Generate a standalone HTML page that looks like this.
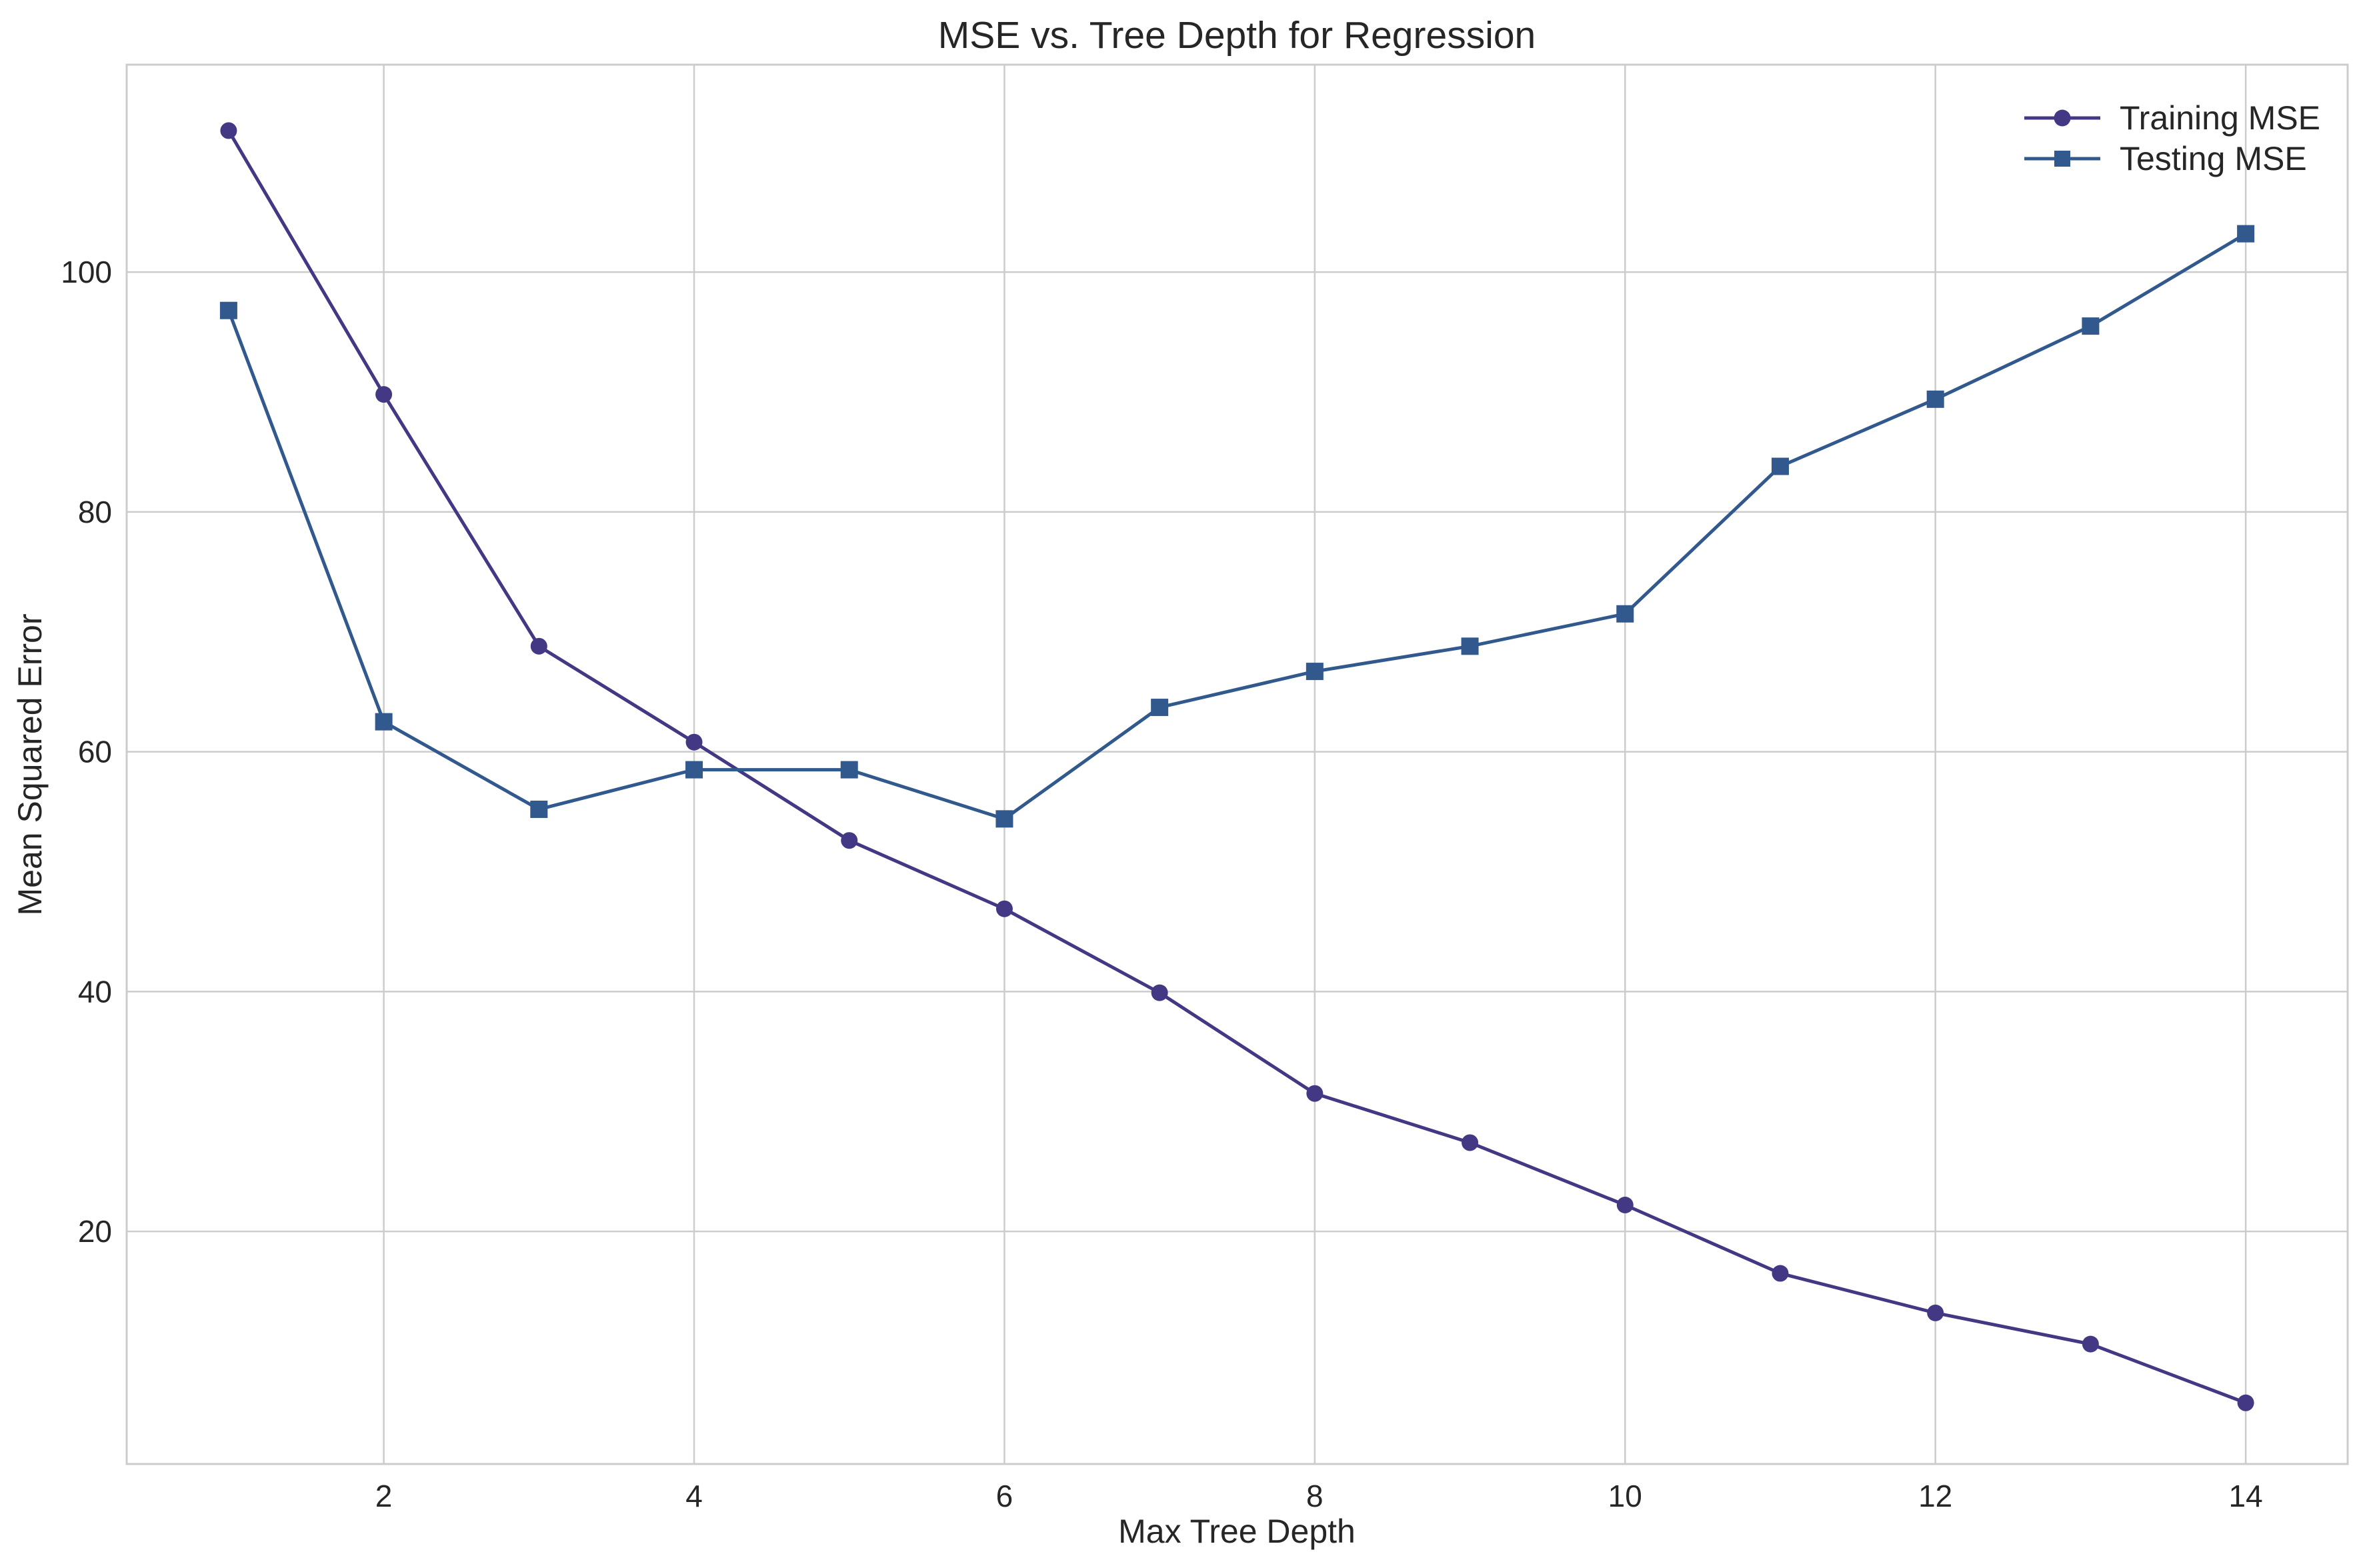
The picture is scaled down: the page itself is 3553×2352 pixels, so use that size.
<!DOCTYPE html>
<html><head><meta charset="utf-8"><style>html,body{margin:0;padding:0;background:#fff}svg{display:block}</style></head>
<body>
<svg id="chart" width="3553" height="2352" xmlns="http://www.w3.org/2000/svg" font-family="'Liberation Sans', sans-serif">
<rect width="3553" height="2352" fill="#fff"/>
<g id="grid"></g>
<g id="series"></g>
<rect x="190" y="97" width="3331" height="2099" fill="none" stroke="#cccccc" stroke-width="3"/>
<g id="ticks"></g>
<text x="1855" y="72" font-size="57" text-anchor="middle" fill="#262626">MSE vs. Tree Depth for Regression</text>
<text x="1855" y="2314" font-size="50" text-anchor="middle" fill="#262626">Max Tree Depth</text>
<text transform="translate(62,1147) rotate(-90)" font-size="50" text-anchor="middle" fill="#262626">Mean Squared Error</text>
<g>
 <g>
  <line x1="3036" y1="177" x2="3150" y2="177" stroke="#433883" stroke-width="5"/>
  <circle cx="3093" cy="177" r="12.5" fill="#433883"/>
  <text x="3179" y="194" font-size="50" fill="#262626">Training MSE</text>
 </g>
 <g>
  <line x1="3036" y1="238" x2="3150" y2="238" stroke="#31598d" stroke-width="5"/>
  <rect x="3081" y="226" width="24" height="24" fill="#31598d"/>
  <text x="3179" y="255" font-size="50" fill="#262626">Testing MSE</text>
 </g>
</g>
</svg>
<script>
const depths = [1,2,3,4,5,6,7,8,9,10,11,12,13,14];
const trainingMSE = [111.8,89.8,68.8,60.8,52.6,46.9,39.9,31.5,27.4,22.2,16.5,13.2,10.6,5.7];
const testingMSE = [96.8,62.5,55.2,58.5,58.5,54.4,63.7,66.7,68.8,71.5,83.8,89.4,95.5,103.2];
const xTicks = [2,4,6,8,10,12,14];
const yTicks = [20,40,60,80,100];

const NS = 'http://www.w3.org/2000/svg';
const L=190,R=3521,T=97,B=2196;
const xmin=0.343,xmax=14.657,ymin=0.6,ymax=117.3;
const sx=v=>L+(v-xmin)/(xmax-xmin)*(R-L);
const sy=v=>B-(v-ymin)/(ymax-ymin)*(B-T);
function mk(tag,attrs,parent){const e=document.createElementNS(NS,tag);for(const k in attrs)e.setAttribute(k,attrs[k]);parent.appendChild(e);return e;}
const grid=document.getElementById('grid'),ticks=document.getElementById('ticks'),series=document.getElementById('series');
xTicks.forEach(t=>{
  const g=mk('line',{x1:sx(t),x2:sx(t),y1:T,y2:B,stroke:'#cccccc','stroke-width':2.5},grid);
  
  
  const tx=mk('text',{x:sx(t),y:B+64,'font-size':46,'text-anchor':'middle',fill:'#262626'},ticks);
  tx.textContent=t;
  
  
});
yTicks.forEach(t=>{
  const g=mk('line',{x1:L,x2:R,y1:sy(t),y2:sy(t),stroke:'#cccccc','stroke-width':2.5},grid);
  
  
  const tx=mk('text',{x:L-22,y:sy(t)+16,'font-size':46,'text-anchor':'end',fill:'#262626'},ticks);
  tx.textContent=t;
  
  
});
function draw(vals,color,shape,name){
  const pl=mk('polyline',{points:depths.map((d,i)=>sx(d)+','+sy(vals[i])).join(' '),fill:'none',stroke:color,'stroke-width':5,'stroke-linejoin':'round'},series);
  
  
  depths.forEach((d,i)=>{
    let m;
    if(shape==='c') m=mk('circle',{cx:sx(d),cy:sy(vals[i]),r:12.5,fill:color},series);
    else m=mk('rect',{x:sx(d)-13,y:sy(vals[i])-13,width:26,height:26,fill:color},series);
    
    
  });
}
draw(trainingMSE,'#433883','c','training-mse');
draw(testingMSE,'#31598d','s','testing-mse');
</script>
</body></html>
